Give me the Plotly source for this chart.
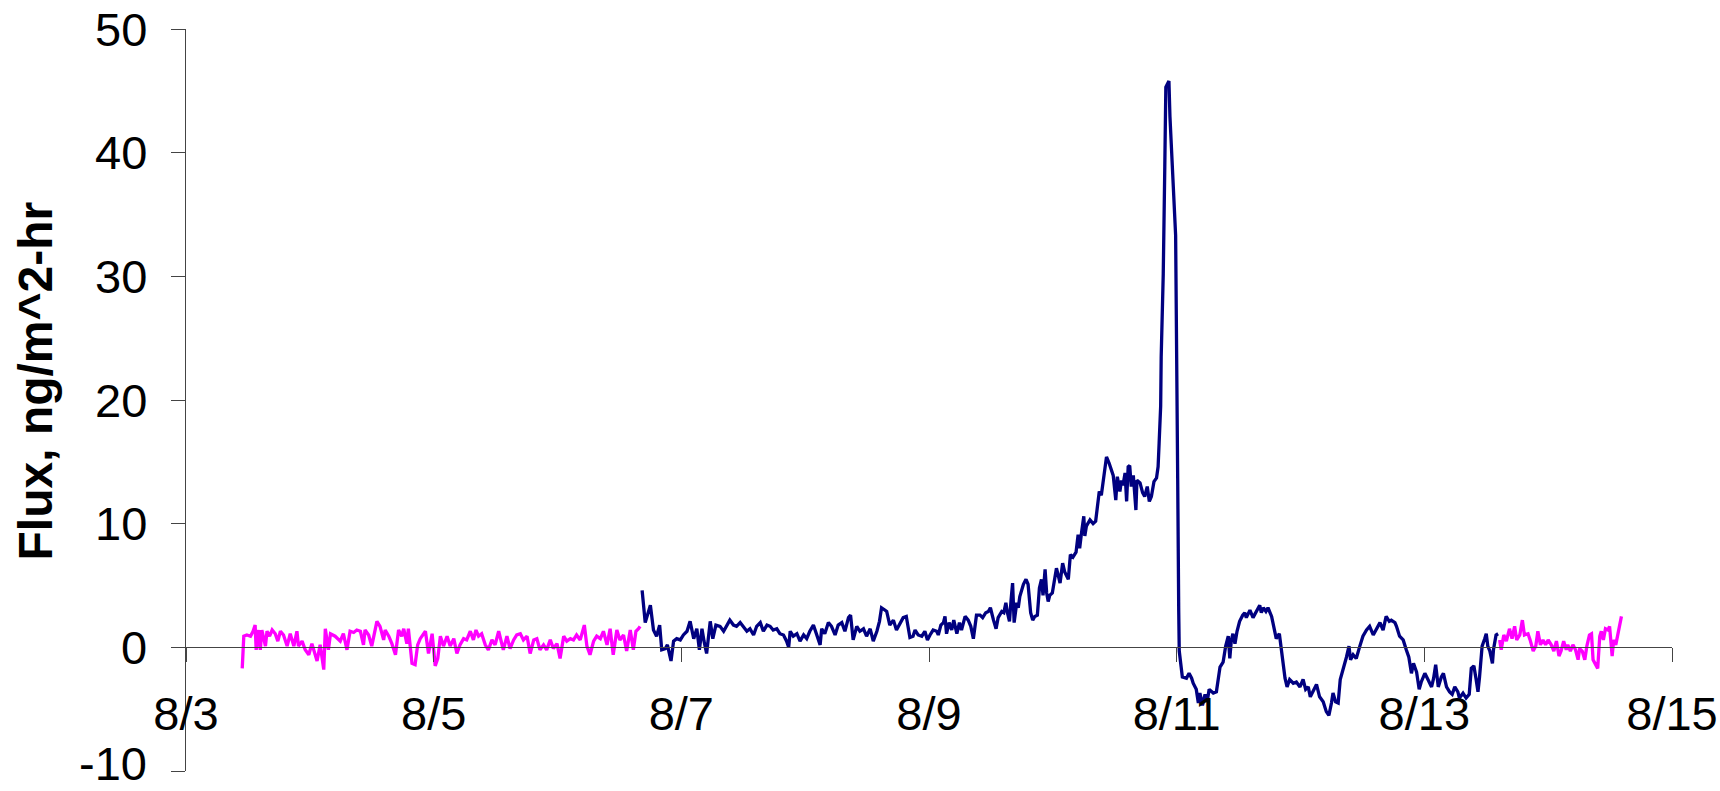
import pandas as pd
import plotly.graph_objects as go

# Hours elapsed since 8/3 00:00 and flux values (ng/m^2-hr)
start_date = "2004-08-03"

mag1_hours = [10.9, 11.2, 11.8, 12.5, 13.0, 13.4, 13.6, 14.1, 14.4, 14.7, 15.4, 15.7, 16.2, 16.7, 17.3, 17.8,
              18.3, 18.9, 19.6, 20.2, 20.9, 21.5, 21.8, 22.5, 23.1, 23.8, 24.4, 25.1, 25.4, 26.0, 26.7, 27.0,
              27.6, 28.0, 28.9, 29.9, 30.5, 31.2, 31.8, 32.5, 33.1, 33.8, 34.4, 34.7, 35.4, 36.0, 37.0, 37.6,
              38.3, 38.6, 39.3, 39.9, 40.6, 41.2, 41.8, 42.2, 42.8, 43.1, 43.8, 44.4, 44.9, 45.4, 46.4, 47.0,
              47.7, 48.3, 48.8, 49.3, 49.9, 50.6, 51.2, 51.9, 52.5, 53.1, 53.8, 54.4, 55.1, 55.7, 56.2, 56.7,
              57.3, 58.0, 58.6, 59.3, 59.9, 60.6, 61.0, 61.5, 62.2, 62.8, 63.5, 64.1, 64.8, 65.4, 66.1, 66.7,
              67.4, 68.0, 68.6, 69.3, 69.9, 70.6, 71.2, 71.9, 72.5, 73.2, 73.8, 74.5, 75.1, 75.7, 76.4, 77.2,
              77.7, 78.3, 79.0, 79.6, 80.3, 80.9, 81.6, 82.2, 82.8, 83.5, 84.1, 84.8, 85.4, 86.1, 86.7, 87.2,
              87.7, 88.0]
mag1_flux = [-1.7, 0.9, 1.0, 0.9, 1.3, 1.8, -0.2, 1.4, -0.2, 1.4, 0.1, 1.3, 0.9, 1.4, 1.1, 0.5,
             1.3, 1.0, 0.1, 1.1, 0.1, 1.3, 0.1, 0.5, -0.2, -0.6, 0.3, -0.6, -1.1, 0.2, -1.8, 1.5,
             -0.2, 1.1, 0.9, 0.5, 1.1, -0.2, 1.3, 1.2, 1.4, 1.3, 0.2, 1.4, 1.0, 0.1, 2.1, 1.7,
             0.6, 1.4, 0.9, 0.3, -0.6, 1.4, 0.9, 1.5, 0.3, 1.5, -1.3, -1.4, 0.2, 0.7, 1.3, -0.5,
             1.1, -1.5, -0.9, 0.9, 0.1, 0.9, 0.1, 0.7, -0.5, 0.2, 0.7, 0.6, 1.3, 0.6, 1.4, 0.9,
             1.1, 0.2, -0.2, 0.6, 0.2, 1.3, 0.6, -0.2, 0.9, -0.1, 0.6, 1.0, 1.1, 0.6, 0.9, -0.5,
             0.6, 0.7, -0.2, 0.2, -0.2, 0.6, -0.1, 0.3, -0.9, 0.9, 0.5, 0.7, 0.6, 1.0, 0.6, 1.8,
             0.1, -0.6, 0.5, 0.9, 0.7, 1.3, 0.2, 1.5, -0.6, 1.4, 0.6, 1.0, -0.3, 1.4, -0.2, 1.3,
             1.5, 1.7]

navy_hours = [88.4, 89.0, 90.0, 90.6, 91.2, 91.8, 92.2, 92.9, 93.3, 94.0, 94.5, 95.1, 95.8, 96.4, 97.1, 97.7,
              98.4, 99.0, 99.5, 100.0, 100.4, 100.9, 101.6, 102.1, 102.7, 103.5, 104.2, 104.8, 105.4, 106.1,
              106.7, 107.4, 108.0, 108.7, 109.3, 110.0, 110.6, 111.3, 111.9, 112.6, 113.2, 113.8, 114.5,
              115.1, 115.8, 116.4, 116.8, 117.1, 117.7, 118.4, 119.0, 119.7, 120.3, 120.9, 121.6, 122.2,
              122.9, 123.2, 123.8, 124.5, 125.1, 125.8, 126.4, 127.1, 127.7, 128.4, 128.8, 129.3, 130.0,
              130.6, 131.3, 131.9, 132.6, 133.2, 133.9, 134.4, 134.8, 135.5, 135.8, 136.4, 137.1, 137.7,
              138.4, 139.0, 139.6, 140.3, 140.9, 141.3, 141.9, 142.6, 143.2, 143.7, 144.2, 144.8, 145.5,
              145.8, 146.3, 146.8, 147.1, 147.4, 147.9, 148.4, 148.8, 149.4, 149.9, 150.3, 151.0, 151.6,
              152.1, 152.6, 153.2, 153.9, 154.4, 155.0, 155.5, 155.9, 156.5, 157.0, 157.4, 158.1, 158.5,
              158.9, 159.2, 159.6, 159.9, 160.2, 160.5, 161.0, 161.3, 161.6, 162.3, 162.8, 163.2, 163.7,
              164.1, 164.5, 165.0, 165.4, 165.8, 166.1, 166.5, 166.8, 167.1, 167.4, 167.9, 168.4, 168.7,
              169.0, 169.4, 169.9, 170.3, 171.0, 171.4, 171.9, 172.5, 172.9, 173.2, 173.6, 174.0, 174.2,
              174.5, 175.2, 175.8, 176.3, 176.6, 177.0, 177.4, 177.9, 178.4, 178.9, 179.7, 180.2, 180.5,
              181.0, 181.3, 181.6, 182.0, 182.3, 182.6, 182.9, 183.2, 183.6, 184.1, 184.3, 184.9, 185.4,
              185.8, 186.3, 186.7, 187.1, 187.6, 188.1, 188.4, 188.6, 188.9, 189.0, 189.4, 189.7, 189.9,
              190.5, 190.7, 191.8, 191.9, 192.2, 192.4, 192.5, 193.1, 193.9, 194.4, 194.9, 195.2, 195.8,
              196.2, 196.5, 197.0, 197.5, 197.9, 198.3, 199.1, 199.7, 200.4, 201.0, 201.5, 202.0, 202.3,
              202.6, 202.9, 203.3, 203.7, 204.2, 204.8, 205.2, 205.5, 206.2, 206.8, 207.5, 208.1, 208.4,
              208.8, 209.3, 209.7, 210.4, 211.0, 211.3, 211.9, 212.3, 213.0, 213.4, 213.9, 214.6, 215.2,
              215.9, 216.5, 217.0, 217.5, 217.9, 218.4, 219.1, 219.7, 220.4, 221.0, 221.5, 222.0, 222.3,
              222.8, 223.3, 223.7, 224.3, 224.9, 225.4, 225.7, 226.2, 226.8, 227.5, 228.1, 228.8, 229.4,
              230.1, 230.7, 231.4, 232.0, 232.6, 233.2, 233.6, 234.3, 234.6, 235.2, 235.9, 236.5, 237.0,
              237.5, 237.9, 238.5, 239.0, 239.4, 240.1, 240.7, 241.4, 241.8, 242.2, 242.7, 243.3, 243.7,
              244.3, 244.9, 245.4, 245.9, 246.5, 246.8, 247.5, 248.1, 248.7, 249.1, 249.6, 250.0, 250.4,
              250.7, 251.2, 251.7, 252.0, 252.3, 252.7, 253.2, 253.4, 253.9, 254.3]
navy_flux = [4.6, 2.0, 3.4, 1.4, 0.9, 1.8, -0.2, -0.1, 0.2, -1.1, 0.5, 0.7, 0.6, 1.0, 1.3, 2.1,
             0.7, 1.5, -0.2, 1.5, 0.5, -0.5, 2.1, 0.7, 1.8, 1.7, 1.3, 1.7, 2.2, 1.8,
             1.7, 2.0, 1.7, 1.3, 1.5, 1.0, 1.7, 2.0, 1.3, 1.8, 1.7, 1.4, 1.5,
             1.1, 1.0, 0.5, 0.0, 1.3, 0.9, 1.1, 0.5, 1.0, 0.7, 1.3, 1.8, 1.0,
             0.2, 1.5, 1.1, 2.0, 1.7, 1.0, 1.8, 2.0, 1.3, 2.4, 2.6, 0.6, 1.7,
             1.3, 1.5, 0.9, 1.5, 0.5, 1.3, 2.1, 3.2, 3.0, 2.9, 1.8, 2.2, 1.4,
             1.9, 2.4, 2.5, 0.8, 0.9, 1.4, 1.0, 0.9, 1.3, 0.6, 1.0, 1.4, 1.3,
             1.0, 1.8, 2.0, 2.5, 1.1, 2.0, 1.4, 2.2, 1.1, 2.0, 1.4, 2.5, 2.2,
             1.7, 0.7, 2.6, 2.6, 2.4, 2.8, 2.9, 3.2, 2.2, 1.5, 2.4, 2.9, 2.8,
             3.6, 2.8, 2.1, 3.8, 5.2, 2.0, 3.6, 3.2, 4.1, 5.1, 5.5, 5.1, 2.8,
             2.2, 2.5, 2.6, 4.8, 5.5, 4.2, 6.3, 4.4, 3.7, 4.2, 4.4, 5.5, 6.4,
             5.9, 5.2, 6.8, 6.1, 5.5, 7.5, 7.3, 7.7, 9.1, 8.0, 9.4, 10.6, 9.0,
             9.8, 10.3, 10.0, 10.2, 11.4, 12.6, 12.3, 14.1, 15.4, 14.9, 13.9, 11.9, 13.8,
             12.6, 13.5, 13.1, 14.1, 11.8, 14.6, 14.7, 13.0, 13.9, 11.1, 13.5, 13.3, 12.5,
             12.2, 13.0, 11.8, 12.2, 13.4, 13.7, 14.6, 16.5, 19.5, 23.5, 30.2, 38.9, 45.3,
             45.8, 42.9, 33.3, 25.1, 13.6, 2.9, -0.3, -2.4, -2.5, -2.1, -2.5, -2.9, -3.4,
             -4.5, -3.7, -4.7, -3.8, -4.4, -3.4, -3.7, -3.6, -1.6, -1.2, 0.1, 0.9, -0.9,
             0.6, 1.1, 0.3, 1.3, 2.1, 2.6, 2.8, 2.4, 3.0, 2.4, 3.0, 3.4, 2.8,
             3.2, 2.9, 3.2, 2.5, 1.4, 0.7, 1.1, -0.2, -2.5, -3.2, -2.6, -2.9, -2.8,
             -3.2, -2.6, -3.4, -3.2, -4.0, -3.6, -3.0, -4.0, -4.4, -5.2, -5.5, -4.5, -3.7,
             -4.4, -4.5, -2.6, -1.8, -0.8, 0.1, -1.0, -0.6, -0.9, 0.1, 0.9, 1.4, 1.7,
             1.0, 1.5, 2.0, 1.4, 2.5, 2.1, 2.2, 2.0, 1.7, 0.9, 0.6, -0.2, -0.8,
             -2.1, -1.3, -2.0, -3.4, -2.8, -2.1, -2.6, -3.2, -2.5, -1.4, -3.2, -2.4, -2.1,
             -3.2, -3.6, -3.8, -3.2, -3.6, -4.1, -3.7, -4.1, -3.8, -1.7, -1.5, -2.5, -3.6,
             -2.4, 0.1, 0.7, 1.1, 0.1, -0.3, -1.3, -0.2, 1.0, 1.1]

mag2_hours = [254.6, 254.9, 255.4, 255.9, 256.5, 257.0, 257.5, 257.9, 258.5, 259.0, 259.4, 260.1, 260.5,
              261.1, 261.6, 262.0, 262.5, 263.0, 263.5, 264.0, 264.6, 265.1, 265.6, 266.1, 266.5, 267.0,
              267.5, 267.8, 268.3, 268.8, 269.3, 269.8, 270.1, 270.6, 271.1, 271.5, 272.0, 272.4, 272.7,
              273.2, 273.6, 274.0, 274.3, 274.7, 275.1, 275.6, 275.9, 276.4, 276.7, 277.1, 277.5, 278.2]
mag2_flux = [0.6, -0.2, 1.0, 0.5, 1.5, 0.7, 1.7, 0.6, 1.0, 2.2, 1.0, 1.1, 0.6,
             -0.3, 0.1, 1.3, 0.2, 0.6, 0.2, 0.6, 0.2, -0.3, 0.5, -0.7, -0.3, 0.5,
             -0.2, 0.2, -0.3, 0.2, -0.2, -1.0, -0.1, -0.3, -1.0, 0.1, 1.0, 1.1, -1.0,
             -1.4, -1.7, 0.9, 1.3, 0.6, 1.5, 1.4, 1.7, -0.7, 0.6, 0.2, 1.1, 2.5]

tick_dates = ["2004-08-03", "2004-08-05", "2004-08-07", "2004-08-09", "2004-08-11", "2004-08-13", "2004-08-15"]
tick_labels = ["8/3", "8/5", "8/7", "8/9", "8/11", "8/13", "8/15"]
y_tick_vals = [-10, 0, 10, 20, 30, 40, 50]
y_tick_labels = ["-10", "0", "10", "20", "30", "40", "50"]
y_title = "Flux, ng/m^2-hr"

base = pd.Timestamp(start_date)


def to_time(hours):
    return [base + pd.Timedelta(hours=h) for h in hours]


FONT = "Liberation Sans, Arial, sans-serif"
L, R, T, B = 186, 48, 29, 20
PLOT_W = 1720 - L - R
LABEL_RIGHT_PX = 149  # right edge of the y tick labels, in page pixels

fig = go.Figure()
fig.add_trace(go.Scatter(x=to_time(mag1_hours), y=mag1_flux, mode="lines",
                         line=dict(color="#FF00FF", width=3.3), showlegend=False))
fig.add_trace(go.Scatter(x=to_time(navy_hours), y=navy_flux, mode="lines",
                         line=dict(color="#000080", width=3.3), showlegend=False))
fig.add_trace(go.Scatter(x=to_time(mag2_hours), y=mag2_flux, mode="lines",
                         line=dict(color="#FF00FF", width=3.3), showlegend=False))

annotations = []
for v, lab in zip(y_tick_vals, y_tick_labels):
    annotations.append(dict(
        text=lab, xref="paper", yref="y", x=(LABEL_RIGHT_PX - L) / PLOT_W, y=v,
        xanchor="right", yanchor="middle", showarrow=False,
        yshift=8 if v == y_tick_vals[0] else 0,
        font=dict(family=FONT, size=47, color="black"),
    ))
annotations.append(dict(
    text="<b>" + y_title + "</b>", textangle=-90,
    xref="paper", yref="paper", x=(35 - L) / PLOT_W, y=0.525,
    xanchor="center", yanchor="middle", showarrow=False,
    font=dict(family=FONT, size=48, color="black"),
))

fig.update_layout(
    width=1720, height=791,
    margin=dict(l=L, r=R, t=T, b=B, pad=0, autoexpand=False),
    paper_bgcolor="white", plot_bgcolor="white",
    font=dict(family=FONT, size=47, color="black"),
    xaxis=dict(
        type="date", range=[tick_dates[0], tick_dates[-1]],
        tickmode="array", tickvals=tick_dates, ticktext=tick_labels,
        anchor="free", position=1 / 6, automargin=False, ticklabeloverflow="allow",
        showline=True, linecolor="#444444", linewidth=1.3,
        ticks="outside", ticklen=14, tickcolor="#444444", tickwidth=1.3,
        showgrid=False, zeroline=False,
        tickfont=dict(family=FONT, size=47, color="black"),
        ticklabelstandoff=11,
    ),
    yaxis=dict(
        range=[-10, 50], tickmode="array", tickvals=y_tick_vals, showticklabels=False,
        automargin=False,
        showline=True, linecolor="#444444", linewidth=1.3,
        ticks="outside", ticklen=14, tickcolor="#444444", tickwidth=1.3,
        showgrid=False, zeroline=False,
    ),
    annotations=annotations,
)

fig.write_html("out.html")
